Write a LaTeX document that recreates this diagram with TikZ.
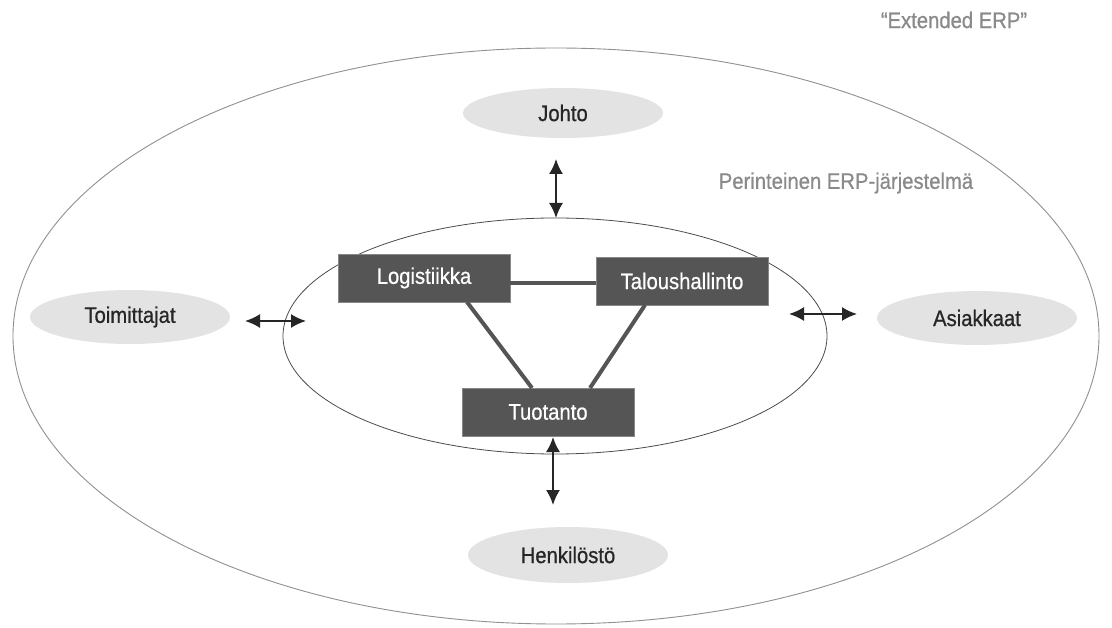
\documentclass[tikz,border=0pt]{standalone}
\usepackage{fontspec}
\setmainfont[FakeStretch=0.9,FakeBold=0.7]{Liberation Sans}
\usetikzlibrary{arrows.meta,shapes.geometric}
\definecolor{boxgray}{HTML}{555555}
\definecolor{ellgray}{HTML}{E3E3E3}
\definecolor{txtgray}{HTML}{8A8A8A}
\definecolor{ringgray}{HTML}{909090}
\begin{document}
\begin{tikzpicture}[x=1pt,y=-1pt,
  font=\fontsize{22.5}{25}\selectfont,
  actor/.style={ellipse, fill=ellgray, minimum width=200pt, inner sep=0pt, text=black!85},
  module/.style={rectangle, fill=boxgray, draw=boxgray!70, text=white, minimum width=172pt, minimum height=48pt, inner sep=0pt},
  link/.style={draw=boxgray, line width=4pt},
  dbl/.style={{Latex[length=15pt,width=14pt]}-{Latex[length=15pt,width=14pt]}, line width=1.8pt, black!85},
  ring/.style={draw=ringgray, line width=0.9pt},
  lbl/.style={text=txtgray}
]
\useasboundingbox (0,0) rectangle (1112,628);
\fill[white] (0,0) rectangle (1112,628);
% rings
\draw[ring] (556,336) ellipse [x radius=543, y radius=288];
\draw[ring, draw=black!70, line width=0.8pt] (555,336) ellipse [x radius=272, y radius=118];
\node[lbl] (ext) at (954,20) {“Extended ERP”};
\node[lbl] (per) at (846,183) {Perinteinen ERP-järjestelmä};
% actors
\node[actor, minimum height=50pt] (johto) at (563,113) {Johto};
\node[actor, minimum height=54pt] (toim) at (130,317) {Toimittajat};
\node[actor, minimum height=54pt] (asia) at (977,318) {Asiakkaat};
\node[actor, minimum height=56pt] (henk) at (568,555) {Henkilöstö};
% modules
\node[module] (log) at (424,278) {Logistiikka};
\node[module] (tal) at (682,281) {Taloushallinto};
\node[module] (tuo) at (548,412) {Tuotanto};
% links
\coordinate (l1) at (467,302); \coordinate (t1) at (532,388);
\coordinate (l2) at (645,305); \coordinate (t2) at (590,388);
\draw[link] (log.east |- 0,283) -- (tal.west |- 0,283);
\draw[link] (l1) -- (t1);
\draw[link] (l2) -- (t2);
% arrows
\coordinate (a1) at (556,159); \coordinate (a2) at (556,218);
\coordinate (b1) at (245,321); \coordinate (b2) at (306,321);
\coordinate (c1) at (789,314); \coordinate (c2) at (857,314);
\coordinate (d1) at (553,437); \coordinate (d2) at (553,505);
\draw[dbl] (a1) -- (a2);
\draw[dbl] (b1) -- (b2);
\draw[dbl] (c1) -- (c2);
\draw[dbl] (d1) -- (d2);
\end{tikzpicture}
\end{document}
